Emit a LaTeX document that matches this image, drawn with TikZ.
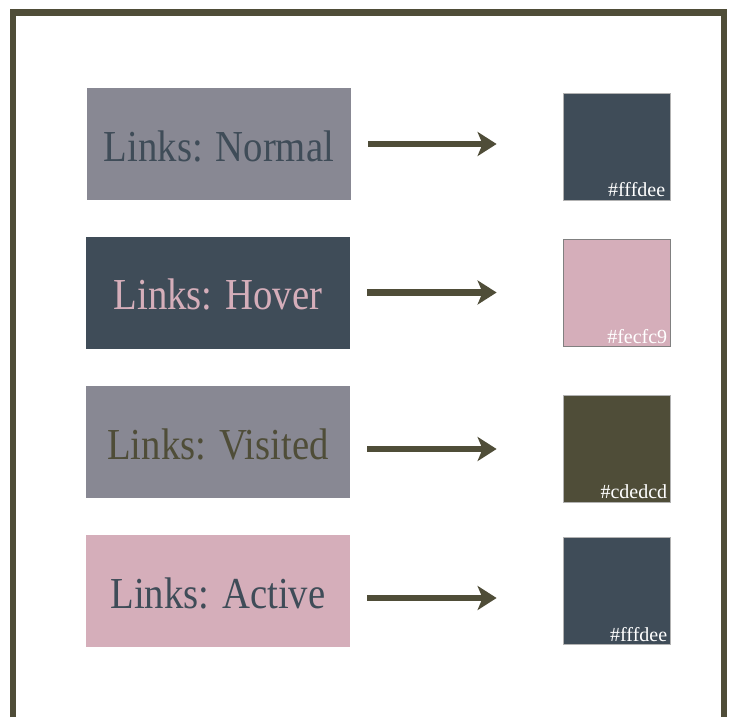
\documentclass[tikz,border=0pt]{standalone}
\usepackage{fontspec}
\setmainfont{Liberation Serif}
\usepackage{graphicx}
\usepackage{xcolor}
\usepackage{tikz}
\usetikzlibrary{arrows.meta,calc}

\definecolor{slate}{HTML}{3F4C58}
\definecolor{mauve}{HTML}{D5AEBA}
\definecolor{olive}{HTML}{4F4D38}
\definecolor{greyv}{HTML}{888893}

\newcommand{\tall}[1]{\scalebox{0.98}[1.12]{#1}}

\tikzset{
	linkbox/.style={minimum width=264pt, minimum height=112pt, inner sep=0pt, text height=34pt, text depth=0pt, font=\fontsize{39.5}{40}\selectfont},
	swatch/.style={minimum size=107pt, inner sep=0pt, draw=gray!60, line width=0.8pt},
	hexlabel/.style={anchor=base east, inner sep=0pt, text=white, font=\fontsize{20}{21}\selectfont},
	linkarrow/.style={-{Stealth[length=19pt,width=24pt,inset=5pt]}, line width=6.5pt, draw=olive, shorten <=17pt, shorten >=66pt}
}

\begin{document}
\begin{tikzpicture}[x=1pt,y=-1pt]
		\useasboundingbox (0,0) rectangle (735,717);
		\draw[olive, line width=6.5pt] (13,717) -- (13,12.5) -- (724,12.5) -- (724,717);
		
		\node[linkbox, fill=greyv, text=slate] (normal) at (219,144) {\tall{Links: Normal}};
		\node[linkbox, fill=slate, text=mauve] (hover) at (218,292.5) {\tall{Links: Hover}};
		\node[linkbox, fill=greyv, text=olive] (visited) at (218,442) {\tall{Links: Visited}};
		\node[linkbox, fill=mauve, text=slate] (active) at (218,591) {\tall{Links: Active}};
		
		\node[swatch, fill=slate] (swnormal) at (616.5,146.5) {};
		\node[swatch, fill=mauve, draw=gray] (swhover) at (616.5,293) {};
		\node[swatch, fill=olive] (swvisited) at (616.5,448.5) {};
		\node[swatch, fill=slate] (swactive) at (616.5,591) {};
		
		\node[hexlabel] (hexnormal) at ([shift={(-5pt,3.5pt)}]swnormal.south east) {\#fffdee};
		\node[hexlabel] (hexhover) at ([shift={(-3pt,3pt)}]swhover.south east) {\#fecfc9};
		\node[hexlabel] (hexvisited) at ([shift={(-3pt,3.5pt)}]swvisited.south east) {\#cdedcd};
		\node[hexlabel] (hexactive) at ([shift={(-3pt,3pt)}]swactive.south east) {\#fffdee};
		
		\draw[linkarrow] (normal.east) -- (normal.east -| swnormal.west);
		\draw[linkarrow] (hover.east) -- (hover.east -| swhover.west);
		\draw[linkarrow] ($(visited.east)+(0,7)$) -- ($(visited.east -| swvisited.west)+(0,7)$);
		\draw[linkarrow] ($(active.east)+(0,7)$) -- ($(active.east -| swactive.west)+(0,7)$);
		
\end{tikzpicture}
\end{document}
